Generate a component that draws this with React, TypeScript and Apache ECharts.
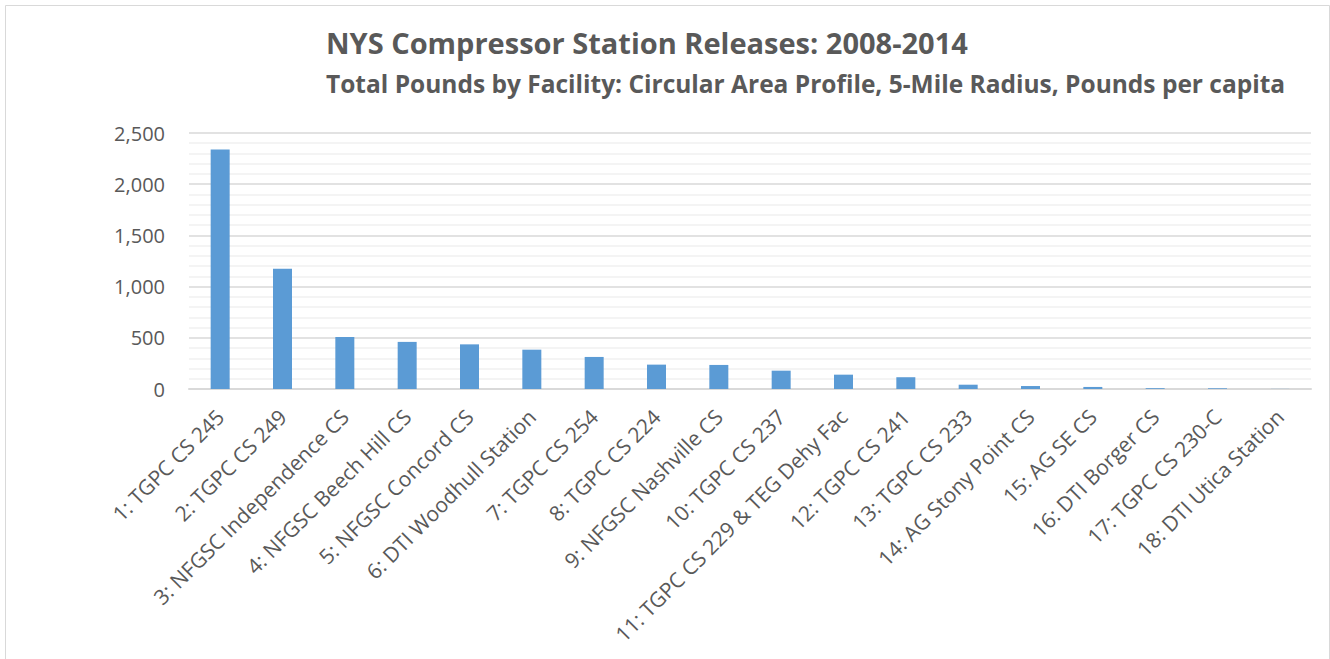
import React, { useEffect, useRef } from "react";
import * as echarts from "echarts";

const titleText = "NYS Compressor Station Releases: 2008-2014";
const subtitleText = "Total Pounds by Facility: Circular Area Profile, 5-Mile Radius, Pounds per capita";

const facilities = [
  "1: TGPC CS 245",
  "2: TGPC CS 249",
  "3: NFGSC Independence CS",
  "4: NFGSC Beech Hill CS",
  "5: NFGSC Concord CS",
  "6: DTI Woodhull Station",
  "7: TGPC CS 254",
  "8: TGPC CS 224",
  "9: NFGSC Nashville CS",
  "10: TGPC CS 237",
  "11: TGPC CS 229 & TEG Dehy Fac",
  "12: TGPC CS 241",
  "13: TGPC CS 233",
  "14: AG Stony Point CS",
  "15: AG SE CS",
  "16: DTI Borger CS",
  "17: TGPC CS 230-C",
  "18: DTI Utica Station",
];

const poundsPerCapita = [
  2340, 1174, 509, 460, 436, 384, 313, 238, 235, 179, 140, 115, 42, 29, 20, 8, 7, 1,
];

const yMin = 0;
const yMax = 2500;
const yInterval = 500;

export default function App() {
  const ref = useRef<HTMLDivElement>(null);

  useEffect(() => {
    document.body.style.margin = "0";
    if (!ref.current) return;
    const chart = echarts.init(ref.current, undefined, { renderer: "svg" });
    const fontFamily = "'Open Sans', sans-serif";
    const textColor = "#595959";
    chart.setOption({
      animation: false,
      backgroundColor: "#ffffff",
      textStyle: { fontFamily },
      title: [
        {
          text: titleText,
          left: 321,
          top: 23,
          textStyle: { fontFamily, fontSize: 29, fontWeight: "bold", color: textColor },
        },
        {
          text: subtitleText,
          left: 321,
          top: 66,
          textStyle: { fontFamily, fontSize: 24.5, fontWeight: "bold", color: textColor },
        },
      ],
      graphic: [
        {
          type: "rect",
          left: 3,
          top: 3,
          shape: { width: 1324, height: 670 },
          style: { fill: "none", stroke: "#d9d9d9", lineWidth: 1 },
          silent: true,
        },
      ],
      grid: { left: 189, right: 19, top: 133, bottom: 270, containLabel: false },
      xAxis: {
        type: "category",
        data: facilities,
        axisLine: { show: true, lineStyle: { color: "#d9d9d9", width: 2 } },
        axisTick: { show: false },
        axisLabel: {
          interval: 0,
          rotate: 45,
          margin: 24,
          fontFamily,
          fontSize: 21,
          color: textColor,
        },
      },
      yAxis: {
        type: "value",
        min: yMin,
        max: yMax,
        interval: yInterval,
        axisLine: { show: false },
        axisTick: { show: false },
        axisLabel: {
          fontFamily,
          fontSize: 20,
          color: textColor,
          margin: 24,
          formatter: (v: number) => v.toLocaleString("en-US"),
        },
        splitLine: { show: true, lineStyle: { color: "#d9d9d9", width: 1.5 } },
        minorTick: { show: false, splitNumber: 5 },
        minorSplitLine: { show: true, lineStyle: { color: "#f0f0f0", width: 1.5 } },
      },
      series: [
        {
          type: "bar",
          data: poundsPerCapita,
          barWidth: 19,
          itemStyle: { color: "#5b9bd5" },
        },
      ],
    });
    return () => chart.dispose();
  }, []);

  return (
    <div
      ref={ref}
      style={{ position: "absolute", left: 0, top: 0, width: 1330, height: 659 }}
    />
  );
}
